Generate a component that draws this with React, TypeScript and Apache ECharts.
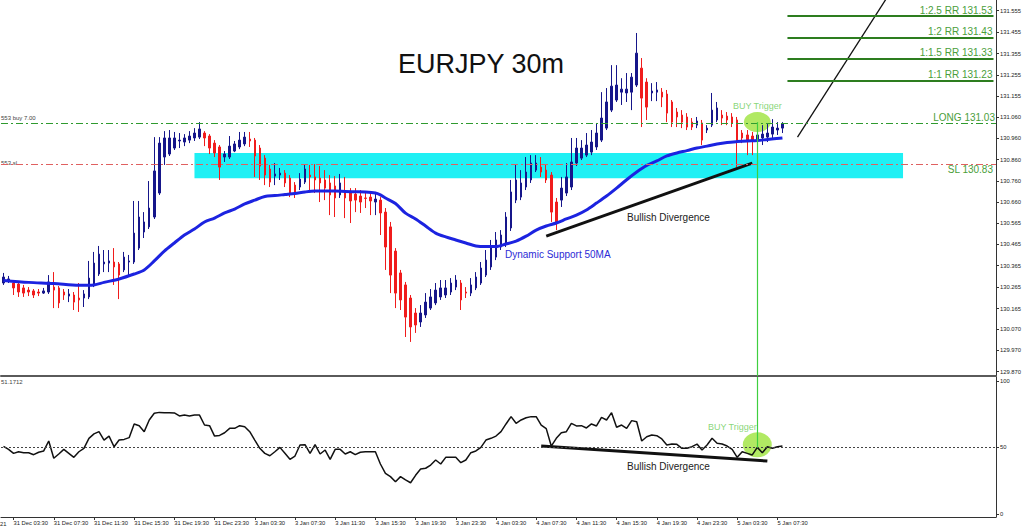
import React, { useEffect, useRef } from 'react';
import * as echarts from 'echarts';

// ---------- DATA ----------
// [open, close, low, high] for each 30m bar
const candles: number[][] = [
  [130.284,130.312,130.275,130.331],[130.298,130.303,130.284,130.317],[130.284,130.261,130.228,130.293],[130.279,130.242,130.219,130.289],
  [130.261,130.237,130.219,130.275],[130.251,130.242,130.223,130.265],[130.247,130.228,130.214,130.256],[130.242,130.237,130.223,130.256],
  [130.237,130.247,130.233,130.261],[130.242,130.289,130.233,130.321],[130.265,130.251,130.167,130.335],[130.261,130.191,130.167,130.270],
  [130.242,130.228,130.205,130.256],[130.223,130.233,130.195,130.256],[130.228,130.195,130.158,130.242],[130.214,130.205,130.149,130.284],
  [130.214,130.233,130.172,130.251],[130.219,130.307,130.209,130.387],[130.275,130.377,130.265,130.429],[130.326,130.419,130.317,130.457],
  [130.373,130.382,130.335,130.438],[130.377,130.387,130.335,130.438],[130.382,130.359,130.275,130.447],[130.373,130.321,130.209,130.382],
  [130.345,130.405,130.335,130.429],[130.382,130.387,130.321,130.415],[130.382,130.517,130.373,130.667],[130.447,130.592,130.438,130.667],
  [130.522,130.569,130.494,130.615],[130.546,130.634,130.536,130.760],[130.592,130.807,130.583,130.965],[130.704,130.937,130.695,130.965],
  [130.872,130.961,130.835,130.993],[130.886,130.961,130.877,130.998],[130.914,130.961,130.905,130.989],[130.947,130.951,130.914,130.984],
  [130.942,130.961,130.923,130.979],[130.951,130.970,130.937,130.993],[130.961,130.984,130.947,131.007],[130.965,131.003,130.956,131.035],
  [130.984,130.961,130.923,130.993],[130.970,130.914,130.886,130.979],[130.937,130.891,130.872,130.951],[130.919,130.825,130.765,130.928],
  [130.872,130.886,130.849,130.900],[130.872,130.923,130.863,130.970],[130.900,130.933,130.895,130.947],[130.919,130.951,130.909,130.989],
  [130.933,130.965,130.923,130.989],[130.956,130.947,130.919,130.989],[130.951,130.877,130.779,130.961],[130.914,130.830,130.765,130.928],
  [130.867,130.788,130.741,130.881],[130.816,130.755,130.732,130.835],[130.783,130.793,130.741,130.844],[130.788,130.797,130.765,130.821],
  [130.797,130.751,130.732,130.811],[130.774,130.704,130.685,130.788],[130.741,130.704,130.681,130.755],[130.732,130.769,130.718,130.797],
  [130.755,130.816,130.746,130.839],[130.788,130.779,130.718,130.835],[130.779,130.765,130.704,130.839],[130.774,130.751,130.662,130.830],
  [130.765,130.727,130.671,130.811],[130.751,130.695,130.601,130.788],[130.737,130.681,130.592,130.783],[130.695,130.751,130.681,130.793],
  [130.704,130.681,130.587,130.779],[130.704,130.667,130.564,130.727],[130.699,130.671,130.615,130.727],[130.690,130.662,130.611,130.718],
  [130.681,130.679,130.634,130.704],[130.685,130.667,130.601,130.709],[130.662,130.676,130.601,130.709],[130.671,130.611,130.508,130.685],
  [130.615,130.452,130.345,130.634],[130.546,130.321,130.237,130.569],[130.433,130.237,130.167,130.447],[130.331,130.205,130.158,130.345],
  [130.275,130.125,130.032,130.289],[130.214,130.079,130.009,130.228],[130.144,130.088,130.051,130.167],[130.102,130.144,130.079,130.181],
  [130.135,130.195,130.121,130.237],[130.167,130.219,130.158,130.256],[130.191,130.251,130.181,130.284],[130.219,130.261,130.205,130.298],
  [130.228,130.261,130.214,130.298],[130.242,130.284,130.228,130.307],[130.265,130.298,130.251,130.321],[130.284,130.205,130.158,130.298],
  [130.242,130.237,130.214,130.265],[130.237,130.275,130.223,130.307],[130.261,130.312,130.251,130.335],[130.284,130.354,130.275,130.382],
  [130.321,130.391,130.312,130.438],[130.359,130.452,130.345,130.485],[130.405,130.485,130.391,130.522],[130.452,130.508,130.438,130.531],
  [130.471,130.592,130.452,130.615],[130.541,130.709,130.527,130.765],[130.671,130.765,130.657,130.835],[130.685,130.751,130.671,130.811],
  [130.732,130.802,130.718,130.872],[130.765,130.844,130.751,130.881],[130.811,130.844,130.802,130.881],[130.825,130.802,130.779,130.872],
  [130.811,130.765,130.751,130.835],[130.788,130.615,130.569,130.802],[130.662,130.569,130.531,130.681],[130.671,130.727,130.639,130.779],
  [130.704,130.779,130.690,130.844],[130.732,130.849,130.718,130.961],[130.844,130.914,130.830,130.961],[130.867,130.914,130.858,130.951],
  [130.881,130.928,130.872,130.984],[130.895,130.942,130.881,130.998],[130.919,130.984,130.905,131.031],[130.951,131.054,130.942,131.175],
  [131.007,131.129,130.998,131.194],[131.091,131.203,131.082,131.301],[131.138,131.208,131.129,131.301],[131.175,131.189,131.115,131.240],
  [131.171,131.189,131.129,131.264],[131.175,131.245,131.091,131.264],[131.208,131.357,131.199,131.451],[131.287,131.147,131.012,131.334],
  [131.222,131.105,131.045,131.240],[131.171,131.180,131.133,131.217],[131.175,131.185,131.133,131.222],[131.175,131.152,131.105,131.194],
  [131.166,131.077,131.035,131.185],[131.129,131.035,131.012,131.138],[131.082,131.059,131.012,131.101],[131.068,131.035,131.007,131.091],
  [131.059,131.012,130.998,131.077],[131.035,131.012,130.998,131.054],[131.021,131.040,131.007,131.059],[131.031,130.951,130.928,131.045],
  [130.998,131.007,130.984,131.021],[131.021,131.091,131.012,131.171],[131.045,131.101,131.035,131.129],[131.068,131.054,131.021,131.091],
  [131.063,131.045,131.021,131.082],[131.059,131.031,131.012,131.077],[131.045,130.951,130.825,131.059],[130.984,130.961,130.937,130.998],
  [130.975,130.951,130.881,130.998],[130.970,130.951,130.881,130.989],[130.951,130.975,130.928,131.012],[130.961,130.979,130.928,131.021],
  [130.965,130.984,130.942,131.026],[130.979,131.012,130.961,131.049],[130.998,131.007,130.975,131.035],[131.007,131.028,130.984,131.035],
];

// 50-period moving average, [bar index, value]
const ma50: number[][] = [
  [0,130.296],[5,130.287],[10,130.282],[15,130.273],[18,130.275],[20,130.287],[23,130.303],[26,130.326],[28,130.345],
  [30,130.387],[32,130.433],[34,130.471],[36,130.508],[38,130.536],[40,130.569],[42,130.587],[44,130.611],[46,130.629],
  [48,130.653],[50,130.671],[52,130.688],[54,130.692],[56,130.697],[58,130.702],[60,130.709],[62,130.713],[64,130.713],
  [66,130.713],[68,130.711],[70,130.710],[72,130.709],[74,130.704],[75,130.695],[76,130.681],[78,130.655],[80,130.610],
  [82,130.583],[84,130.550],[86,130.517],[88,130.499],[90,130.485],[92,130.471],[94,130.457],[96,130.454],[98,130.454],
  [100,130.466],[102,130.480],[104,130.503],[106,130.531],[108,130.550],[110,130.564],[112,130.583],[114,130.601],
  [116,130.625],[118,130.657],[120,130.690],[122,130.727],[124,130.766],[126,130.802],[128,130.833],[130,130.854],
  [132,130.877],[134,130.891],[136,130.902],[138,130.914],[140,130.923],[142,130.933],[144,130.940],[146,130.944],
  [148,130.947],[150,130.949],[152,130.954],[155,130.961],
];

// RSI values per bar
const rsi: number[] = [
  50.9,48.6,45.6,46.8,46.1,46.1,44.6,46.4,47.4,54.9,
  41.9,45.1,48.6,45.6,42.6,46.8,49.4,56.9,60.2,61.9,
  55.6,58.6,50.6,55.6,56.1,57.4,67.7,66.4,61.9,70.7,
  75.7,76.4,76.2,76.2,76.0,73.7,74.4,73.7,74.4,74.4,
  66.9,66.4,58.6,59.1,61.1,64.4,64.4,66.4,65.6,61.9,
  55.6,49.4,45.6,43.8,46.8,50.1,45.6,41.1,43.6,51.9,
  52.1,45.6,52.1,45.1,48.1,41.1,48.6,48.6,45.1,46.8,
  44.6,46.4,46.8,46.8,46.8,37.6,30.6,28.1,24.3,28.1,
  25.6,23.5,29.1,33.8,34.4,36.8,40.6,37.6,42.6,42.6,
  42.6,38.6,40.6,46.1,47.4,50.1,55.6,56.9,58.6,61.9,
  67.7,73.2,68.2,70.7,72.4,73.2,73.2,66.9,64.2,51.1,
  56.9,61.1,61.9,68.2,66.2,66.4,64.7,67.7,66.2,72.7,
  70.7,76.2,65.2,66.9,64.4,70.2,69.4,54.9,58.1,59.4,
  58.9,56.4,51.9,52.6,52.4,49.4,49.4,50.6,52.6,48.1,
  51.9,56.9,53.2,52.6,51.1,48.6,42.6,46.8,45.6,44.4,
  50.1,46.1,50.6,49.4,50.6,51.17,
];

const priceTickLabels = ['131.555','131.455','131.355','131.255','131.155','131.060','130.960','130.860','130.760',
  '130.660','130.565','130.465','130.365','130.265','130.165','130.070','129.970','129.870'];
const rsiTickValues = [0, 50, 100];
const xTickLabels = ['31 Dec 03:30','31 Dec 07:30','31 Dec 11:30','31 Dec 15:30','31 Dec 19:30','31 Dec 23:30',
  '3 Jan 03:30','3 Jan 07:30','3 Jan 11:30','3 Jan 15:30','3 Jan 19:30','3 Jan 23:30',
  '4 Jan 03:30','4 Jan 07:30','4 Jan 11:30','4 Jan 15:30','4 Jan 19:30','4 Jan 23:30',
  '5 Jan 03:30','5 Jan 07:30'];

const rrLabels = ['1:2.5 RR 131.53', '1:2 RR 131.43', '1:1.5 RR 131.33', '1:1 RR 131.23'];
const rrValues = [131.53, 131.43, 131.33, 131.23];
const entryPrice = 131.035;
const stopLoss = 130.835;
const lastPrice = 131.028;
const zoneTop = 130.891;
const zoneBottom = 130.773;
const zoneBars = [38, 179];
const rrBars = [156, 197];
const triggerBar = 150;
const priceDivergence = [[108, 130.503], [149, 130.844]];
const rsiDivergence = [[107, 51.1], [152, 39.8]];
const arrowLine = [[158, 130.965], [177, 131.66]];
const rsiCurrent = '51.1712';

const TOTAL_BARS = 198;
const MONTHS = ['Jan','Feb','Mar','Apr','May','Jun','Jul','Aug','Sep','Oct','Nov','Dec'];
const pad = (n: number) => (n < 10 ? '0' + n : '' + n);
function buildTimes(n: number): string[] {
  const out: string[] = [];
  let t = Date.UTC(2021, 11, 31, 2, 30);
  for (let k = 0; k < n; k++) {
    const d = new Date(t);
    out.push(`${d.getUTCDate()} ${MONTHS[d.getUTCMonth()]} ${pad(d.getUTCHours())}:${pad(d.getUTCMinutes())}`);
    t += 30 * 60000;
    const nd = new Date(t);
    if (nd.getUTCDay() === 6 && nd.getUTCHours() === 0 && nd.getUTCMinutes() === 0) t += 2 * 86400000;
  }
  return out;
}
const categories = buildTimes(TOTAL_BARS);

const FONT = '"Liberation Sans", Arial, sans-serif';
const PRICE_MIN = 129.85;
const PRICE_MAX = 131.605;

export default function App() {
  const ref = useRef<HTMLDivElement>(null);
  useEffect(() => {
    if (!ref.current) return;
    const chart = echarts.init(ref.current, undefined, { renderer: 'svg' });
    const priceTickValues = priceTickLabels.map((s) => parseFloat(s));
    const isTick = (_i: number, v: string) => xTickLabels.includes(v);
    const green = '#4a9e3a';
    const option: any = {
      animation: false,
      backgroundColor: '#ffffff',
      textStyle: { fontFamily: FONT },
      grid: [
        { left: 1, right: 28, top: 0, height: 376 },
        { left: 1, right: 28, top: 377, height: 140 },
      ],
      xAxis: [
        {
          type: 'category', gridIndex: 0, data: categories, boundaryGap: true,
          axisLine: { show: true, onZero: false, lineStyle: { color: '#5a5a5a', width: 2 } },
          axisTick: { show: false }, axisLabel: { show: false }, splitLine: { show: false },
        },
        {
          type: 'category', gridIndex: 1, data: categories, boundaryGap: true,
          axisLine: { show: true, onZero: false, lineStyle: { color: '#333', width: 1 } },
          axisTick: { show: true, alignWithLabel: true, interval: isTick, length: 3, lineStyle: { color: '#333' } },
          axisLabel: {
            interval: isTick, align: 'left', margin: 3, fontSize: 5.8, color: '#222', fontFamily: FONT,
          },
          splitLine: { show: false },
        },
      ],
      yAxis: [
        {
          type: 'value', gridIndex: 0, position: 'right', min: PRICE_MIN, max: PRICE_MAX,
          axisLine: { show: true, lineStyle: { color: '#333' } },
          axisTick: { show: true, length: 3, customValues: priceTickValues, lineStyle: { color: '#333' } },
          axisLabel: {
            customValues: priceTickValues, margin: 4, fontSize: 5.8, color: '#222', fontFamily: FONT,
            formatter: (v: number) => { const i = priceTickValues.indexOf(v); return i >= 0 ? priceTickLabels[i] : v.toFixed(3); },
          },
          splitLine: { show: false },
        },
        {
          type: 'value', gridIndex: 1, position: 'right', min: -2.25, max: 103,
          axisLine: { show: true, lineStyle: { color: '#333' } },
          axisTick: { show: true, length: 3, customValues: rsiTickValues, lineStyle: { color: '#333' } },
          axisLabel: { customValues: rsiTickValues, margin: 4, fontSize: 5.8, color: '#222', fontFamily: FONT, formatter: (v: number) => String(v) },
          splitLine: { show: false },
        },
      ],
      series: [
        {
          type: 'scatter', xAxisIndex: 0, yAxisIndex: 0, z: 1,
          data: [[triggerBar, entryPrice]], symbol: 'circle', symbolSize: [27, 20],
          itemStyle: { color: '#9ee33c' },
          label: { show: true, position: 'top', distance: 2, formatter: 'BUY Trigger', color: '#6acb55', fontSize: 9 },
        },
        {
          type: 'candlestick', xAxisIndex: 0, yAxisIndex: 0, z: 2, data: candles, barWidth: 2,
          itemStyle: { color: '#16168a', color0: '#f01c1c', borderColor: '#16168a', borderColor0: '#f01c1c', borderWidth: 1 },
          markArea: {
            silent: true,
            itemStyle: { color: '#1ff0f4' },
            data: [[{ coord: [zoneBars[0], zoneTop] }, { coord: [zoneBars[1], zoneBottom] }]],
          },
          markLine: {
            silent: true, symbol: ['none', 'none'], animation: false,
            data: [
              {
                yAxis: entryPrice, lineStyle: { color: '#2f9a2f', type: [7, 3, 2, 3], width: 1 },
                label: { show: true, position: 'insideEndTop', formatter: 'LONG 131.03', color: green, fontSize: 10, distance: [1, 1] },
              },
              {
                yAxis: stopLoss, lineStyle: { color: '#e06060', type: [7, 3, 2, 3], width: 1 },
                label: { show: true, position: 'insideEndBottom', formatter: 'SL 130.83', color: green, fontSize: 10, distance: [3, 1] },
              },
              {
                yAxis: lastPrice, lineStyle: { opacity: 0 },
                label: { show: true, position: 'end', formatter: lastPrice.toFixed(3), color: '#fff', backgroundColor: '#000', fontSize: 6, padding: [1, 2], distance: 1 },
              },
              ...rrValues.map((v, k) => [
                {
                  coord: [rrBars[0], v], lineStyle: { color: '#2d7d1f', width: 2, type: 'solid' },
                  label: { show: true, position: 'insideEndTop', formatter: rrLabels[k], color: green, fontSize: 10, distance: [1, 1] },
                },
                { coord: [rrBars[1], v] },
              ]),
              [
                { coord: [triggerBar, entryPrice], lineStyle: { color: '#3fcf3f', width: 1.2, type: 'solid' }, label: { show: false } },
                { coord: [triggerBar, PRICE_MIN] },
              ],
            ],
          },
        },
        {
          type: 'line', xAxisIndex: 0, yAxisIndex: 0, z: 4, data: ma50, showSymbol: false, smooth: 0.3,
          lineStyle: { color: '#1c23e0', width: 3 },
        },
        {
          type: 'line', xAxisIndex: 0, yAxisIndex: 0, z: 4, data: priceDivergence, showSymbol: false,
          lineStyle: { color: '#111', width: 3 },
        },
        {
          type: 'line', xAxisIndex: 0, yAxisIndex: 0, z: 4, data: arrowLine, showSymbol: false, clip: true,
          lineStyle: { color: '#111', width: 1.3 },
        },
        {
          type: 'scatter', xAxisIndex: 1, yAxisIndex: 1, z: 1,
          data: [[triggerBar, 52]], symbol: 'circle', symbolSize: [29, 25],
          itemStyle: { color: '#9ee33c' },
          label: { show: true, position: 'top', distance: 1, offset: [-25, 0], formatter: 'BUY Trigger', color: '#6acb55', fontSize: 9 },
        },
        {
          type: 'line', xAxisIndex: 1, yAxisIndex: 1, z: 3, data: rsi, showSymbol: false,
          lineStyle: { color: '#111', width: 1.5 },
          markLine: {
            silent: true, symbol: ['none', 'none'], animation: false,
            data: [
              { yAxis: 50, lineStyle: { color: '#444', type: [2, 2], width: 1 }, label: { show: false } },
              [
                { coord: [triggerBar, 103], lineStyle: { color: '#3fcf3f', width: 1.2, type: 'solid' }, label: { show: false } },
                { coord: [triggerBar, 50] },
              ],
            ],
          },
        },
        {
          type: 'line', xAxisIndex: 1, yAxisIndex: 1, z: 4, data: rsiDivergence, showSymbol: false,
          lineStyle: { color: '#111', width: 3 },
        },
      ],
      graphic: [
        { type: 'text', x: 398, y: 64, style: { text: 'EURJPY 30m', font: `27px ${FONT}`, fill: '#111', align: 'left', verticalAlign: 'middle' } },
        { type: 'text', x: 363, y: 167, style: { text: 'Support/Resistance Zone', font: `11.5px ${FONT}`, fill: '#3f9cf2', align: 'left', verticalAlign: 'middle' } },
        { type: 'text', x: 505, y: 254, style: { text: 'Dynamic Support 50MA', font: `10px ${FONT}`, fill: '#2b2bd6', align: 'left', verticalAlign: 'middle' } },
        { type: 'text', x: 627, y: 217, style: { text: 'Bullish Divergence', font: `10px ${FONT}`, fill: '#222', align: 'left', verticalAlign: 'middle' } },
        { type: 'text', x: 627, y: 466, style: { text: 'Bullish Divergence', font: `10px ${FONT}`, fill: '#222', align: 'left', verticalAlign: 'middle' } },
        { type: 'text', x: 1, y: 118, style: { text: '553 buy 7.00', font: `6px ${FONT}`, fill: '#444', align: 'left', verticalAlign: 'middle' } },
        { type: 'text', x: 1, y: 163, style: { text: '553 sl', font: `6px ${FONT}`, fill: '#444', align: 'left', verticalAlign: 'middle' } },
        { type: 'text', x: 1, y: 382, style: { text: rsiCurrent, font: `6px ${FONT}`, fill: '#444', align: 'left', verticalAlign: 'middle' } },
        { type: 'text', x: 0, y: 524, style: { text: '21', font: `5.8px ${FONT}`, fill: '#222', align: 'left', verticalAlign: 'middle' } },
      ],
    };
    chart.setOption(option);
    return () => chart.dispose();
  }, []);
  return (
    <div
      ref={ref}
      style={{ position: 'fixed', left: 0, top: 0, width: 1024, height: 531, background: '#fff' }}
    />
  );
}
